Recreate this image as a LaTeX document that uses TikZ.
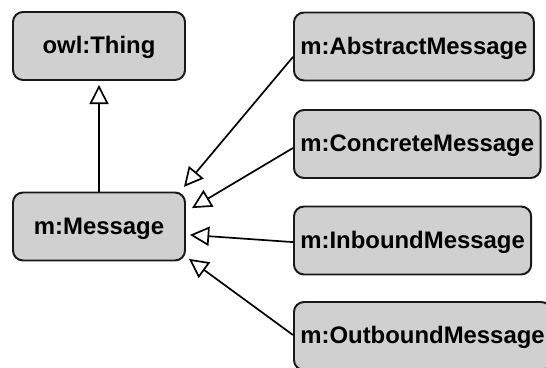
\documentclass[tikz,border=0pt]{standalone}
\usepackage{fontspec}
\setmainfont{Liberation Sans}
\usetikzlibrary{calc,arrows.meta}

\definecolor{boxgray}{RGB}{208,208,208}

\tikzset{
  class/.style={draw=black!90, fill=boxgray, line width=1.4pt, rounded corners=0.25cm,
    minimum height=1.7cm, inner xsep=0.16cm, text height=11pt, text depth=0pt,
    font=\bfseries\fontsize{17}{20}\selectfont},
  isa/.style={line width=1.2pt, -{Triangle[open, length=0.48cm, width=0.48cm, line width=1.2pt]}}
}

\begin{document}
\begin{tikzpicture}

\useasboundingbox (0,0) rectangle (13.65,9.175);

% Left classes
\node[class, minimum width=4.3cm] (thing) at (2.475,8.025) {owl:Thing};
\node[class, minimum width=4.3cm] (msg) at (2.475,3.5125) {m:Message};

% Subclasses on the right
\node[class, anchor=west] (abs) at (7.325,8.0125) {m:AbstractMessage};
\node[class, anchor=west] (con) at (7.325,5.575) {m:ConcreteMessage};
\node[class, anchor=west] (inb) at (7.325,3.1625) {m:InboundMessage};
\node[class, anchor=west] (outb) at (7.325,0.775) {m:OutboundMessage};

% Arrow tips near m:Message
\coordinate (tabs) at ($(msg.east)+(-0.05,0.99)$);
\coordinate (tcon) at ($(msg.east)+(0.15,0.46)$);
\coordinate (tinb) at ($(msg.east)+(0.1,-0.21)$);
\coordinate (toutb) at ($(msg.east)+(0.075,-0.81)$);

% Subclass arrows
\draw[isa, shorten >=0.1cm] (msg.north) -- (thing.south);
\draw[isa] ([yshift=-0.26cm]abs.west) -- (tabs);
\draw[isa] ([yshift=-0.1cm]con.west) -- (tcon);
\draw[isa] ([yshift=-0.04cm]inb.west) -- (tinb);
\draw[isa] ([yshift=0.025cm]outb.west) -- (toutb);

\end{tikzpicture}
\end{document}
